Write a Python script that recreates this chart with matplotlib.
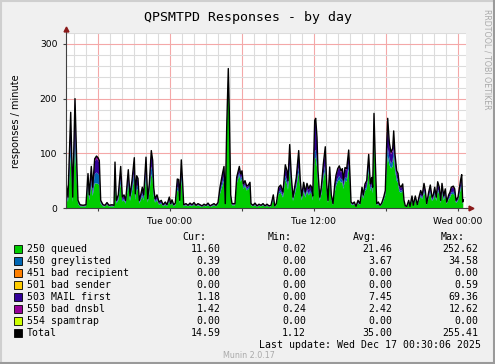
#!/usr/bin/env python3
"""Munin style chart: QPSMTPD responses by day (stacked areas + total line)."""

from datetime import datetime, timedelta

import matplotlib

matplotlib.use("Agg")
import matplotlib.dates as mdates
import matplotlib.pyplot as plt
from matplotlib.lines import Line2D
from matplotlib.patches import Rectangle
from matplotlib.ticker import FuncFormatter, MultipleLocator


START = datetime(2025, 12, 15, 15, 20)  # first 5-minute slot of the graph
SPAN_STEPS = 400                          # one pixel per 5-minute step

# sample positions, in 5-minute steps from START
STEPS = [
    0, 2, 4.7, 6.7, 9, 10.7, 12, 14, 17, 20,
    22, 23.3, 25.3, 26.7, 28.7, 30.5, 32, 33.3, 34.7, 37,
    39, 41, 43, 46, 48, 49, 50.3, 52.3, 54.7, 56.3,
    58, 59.7, 62.3, 64, 66, 68.3, 69.3, 70.7, 72, 73.3,
    74.7, 76.3, 77.7, 80, 81.7, 83.3, 85.3, 86.7, 87.7, 89,
    91, 93, 95.3, 97, 99.3, 101, 103.3, 104.7, 106, 107.7,
    109.3, 111.3, 112.7, 113.7, 115.3, 116.7, 117.7, 120, 122, 124,
    126, 128, 130, 132, 134, 136, 138, 140, 142, 144,
    146, 148, 150, 152, 154, 156.7, 158, 159.3, 160.7, 162.3,
    163.3, 164.7, 166, 169, 170.7, 173.3, 174.7, 176, 177.3, 179,
    180.7, 182.3, 184, 185, 187, 189, 191, 193, 195, 197,
    199, 201, 203, 205, 207.3, 208.7, 210.3, 212.7, 214.7, 217,
    219.3, 221, 222, 223.7, 225.3, 227, 228.7, 230.3, 232.7, 234.3,
    235.7, 237.7, 239.3, 241, 242.7, 244.3, 245.7, 246.7, 248.7, 249.7,
    251, 252, 253.7, 255.3, 257.3, 259.3, 260.7, 262, 263.7, 265.3,
    267, 268.7, 270, 271.7, 273.3, 275, 276.3, 277.3, 279, 280.7,
    282.7, 284, 285, 286.7, 288.3, 290, 292, 294, 296, 297.3,
    299, 300.7, 302.7, 304.3, 305.7, 306.7, 308, 309.3, 310.7, 312.3,
    314, 315.7, 317.7, 319.3, 320.7, 321.7, 323.3, 325, 326.7, 327.7,
    329, 330.7, 332, 333.3, 335, 336.7, 338, 339.3, 340.7, 342.7,
    344, 346, 347.3, 349.3, 351.3, 353, 354.7, 356.3, 358, 359.3,
    360.7, 362.7, 364.3, 366, 367.3, 368.7, 370.3, 371.7, 373.3, 374.7,
    376, 377.7, 379.3, 380.7, 382.7, 384, 385.3, 387.3, 388.7, 390,
    392, 394.7, 395.7, 396.7, 397.3,
]

TOTAL = [
    47, 20, 175, 20, 200, 87, 14, 6, 5, 6,
    63, 24, 76, 38, 90, 95, 92, 87, 14, 6,
    5, 10, 5, 6, 5, 84, 14, 24, 76, 20,
    24, 14, 70, 22, 50, 92, 26, 59, 54, 14,
    24, 38, 24, 93, 17, 44, 105, 87, 38, 17,
    24, 11, 14, 6, 11, 6, 20, 8, 15, 6,
    9, 53, 52, 14, 88, 44, 6, 8, 5, 9,
    6, 10, 5, 8, 6, 4, 7, 5, 9, 4,
    6, 8, 5, 10, 38, 65, 76, 8, 147, 255,
    178, 24, 8, 8, 56, 76, 62, 68, 44, 50,
    40, 42, 47, 8, 5, 9, 4, 7, 5, 8,
    4, 7, 4, 5, 24, 4, 8, 38, 42, 29,
    79, 68, 50, 116, 58, 20, 38, 56, 105, 50,
    22, 47, 29, 45, 35, 42, 38, 22, 160, 164,
    129, 68, 20, 38, 80, 112, 44, 14, 75, 24,
    8, 42, 60, 72, 77, 68, 72, 51, 74, 72,
    106, 58, 11, 8, 11, 3, 14, 8, 38, 24,
    44, 50, 98, 44, 56, 38, 173, 87, 8, 11,
    5, 9, 20, 32, 118, 164, 120, 102, 109, 141,
    98, 68, 63, 42, 38, 44, 14, 4, 3, 14,
    3, 22, 5, 22, 6, 20, 32, 24, 45, 32,
    8, 29, 42, 20, 24, 38, 20, 48, 38, 14,
    45, 22, 35, 11, 24, 29, 38, 40, 35, 14,
    20, 52, 61, 11, 14.59,
]

QUEUED = [
    26, 11, 95, 11, 110, 50, 8, 3, 3, 3,
    38, 14, 42, 22, 45, 45, 44, 42, 8, 3,
    3, 6, 3, 3, 3, 50, 8, 14, 45, 12,
    14, 8, 42, 13, 30, 55, 15, 35, 32, 8,
    14, 22, 14, 55, 10, 26, 62, 52, 22, 10,
    14, 6, 8, 3, 6, 3, 12, 5, 9, 3,
    5, 32, 31, 8, 52, 26, 3, 5, 3, 5,
    3, 6, 3, 5, 3, 2, 4, 3, 5, 2,
    3, 5, 3, 6, 26, 42, 50, 5, 135, 250,
    165, 18, 5, 5, 44, 60, 48, 54, 35, 40,
    32, 34, 38, 5, 3, 5, 2, 4, 3, 5,
    2, 4, 2, 3, 15, 2, 5, 26, 28, 19,
    52, 44, 33, 70, 38, 13, 25, 37, 65, 33,
    14, 31, 19, 30, 23, 28, 25, 14, 90, 92,
    75, 44, 13, 25, 52, 70, 29, 9, 49, 16,
    5, 28, 40, 48, 52, 46, 48, 35, 50, 48,
    72, 40, 7, 5, 7, 2, 9, 5, 27, 17,
    31, 35, 68, 31, 39, 27, 150, 70, 5, 7,
    3, 6, 14, 23, 72, 95, 80, 72, 76, 95,
    70, 50, 46, 30, 28, 31, 10, 2, 2, 9,
    2, 15, 3, 15, 4, 13, 21, 16, 29, 21,
    5, 19, 27, 13, 16, 25, 13, 31, 25, 9,
    29, 14, 23, 7, 16, 19, 25, 26, 23, 9,
    13, 34, 40, 7, 11.60,
]

GREYLISTED = [
    6, 3, 25, 3, 30, 12, 2, 1, 0.5, 1,
    8, 3, 10, 5, 17, 20, 19, 17, 2, 1,
    0.5, 1, 0.5, 1, 0.5, 10, 2, 3, 9, 2,
    3, 2, 8, 3, 6, 12, 3, 7, 7, 2,
    3, 5, 3, 12, 2, 5, 14, 11, 5, 2,
    3, 1, 2, 1, 1, 1, 2, 1, 2, 1,
    1, 6, 6, 2, 11, 5, 1, 1, 0.5, 1,
    1, 1, 0.5, 1, 1, 0.3, 1, 0.5, 1, 0.3,
    1, 1, 0.5, 1, 4, 7, 8, 1, 3, 2,
    3, 2, 1, 1, 4, 5, 5, 5, 3, 3,
    3, 3, 3, 1, 0.5, 1, 0.3, 1, 0.5, 1,
    0.3, 1, 0.3, 0.5, 3, 0.3, 1, 4, 4, 3,
    7, 6, 5, 10, 5, 2, 3, 5, 9, 4,
    2, 4, 3, 4, 3, 4, 3, 2, 14, 14,
    11, 6, 2, 3, 7, 10, 4, 1, 7, 2,
    1, 4, 5, 6, 7, 6, 6, 4, 6, 6,
    9, 5, 1, 1, 1, 0.2, 1, 1, 3, 2,
    4, 4, 8, 4, 5, 3, 6, 5, 1, 1,
    0.5, 1, 2, 3, 12, 16, 12, 9, 10, 13,
    8, 6, 5, 4, 3, 4, 1, 0.3, 0.2, 1,
    0.2, 2, 0.5, 2, 0.5, 2, 3, 2, 4, 3,
    1, 3, 4, 2, 2, 3, 2, 4, 3, 1,
    4, 2, 3, 1, 2, 3, 3, 4, 3, 1,
    2, 5, 6, 1, 0.39,
]

DNSBL = [
    3, 2, 8, 2, 9, 4, 2, 1, 1, 1,
    3, 2, 4, 2, 5, 5, 5, 4, 1, 1,
    1, 1, 1, 1, 1, 4, 1, 2, 4, 2,
    2, 1, 3, 2, 3, 4, 2, 3, 3, 1,
    2, 2, 2, 4, 1, 2, 5, 4, 2, 1,
    2, 1, 1, 1, 1, 1, 2, 1, 1, 1,
    1, 3, 3, 1, 4, 2, 1, 1, 1, 1,
    1, 1, 1, 1, 1, 1, 1, 1, 1, 1,
    1, 1, 1, 1, 2, 3, 3, 1, 2, 2,
    2, 1, 1, 1, 2, 3, 2, 2, 2, 2,
    2, 2, 2, 1, 1, 1, 1, 1, 1, 1,
    1, 1, 1, 1, 2, 1, 1, 2, 2, 2,
    4, 3, 2, 5, 3, 1, 2, 3, 5, 2,
    1, 2, 2, 2, 2, 2, 2, 1, 8, 8,
    6, 3, 1, 2, 4, 5, 2, 1, 3, 1,
    1, 2, 3, 3, 3, 3, 3, 2, 3, 3,
    5, 3, 1, 1, 1, 0.5, 1, 1, 2, 1,
    2, 2, 4, 2, 3, 2, 4, 3, 1, 1,
    1, 1, 1, 2, 5, 7, 5, 4, 5, 6,
    4, 3, 3, 2, 2, 2, 1, 1, 0.5, 1,
    0.5, 1, 1, 1, 1, 1, 2, 1, 2, 2,
    1, 2, 2, 1, 1, 2, 1, 2, 2, 1,
    2, 1, 2, 1, 1, 2, 2, 2, 2, 1,
    1, 3, 3, 1, 1.42,
]

LEGEND_NAMES = [
    "250 queued", "450 greylisted", "451 bad recipient", "501 bad sender",
    "503 MAIL first", "550 bad dnsbl", "554 spamtrap", "Total",
]
LEGEND_COLORS = [
    "#00CC00", "#0066B3", "#FF8000", "#FFCC00",
    "#330099", "#990099", "#CCFF00", "#000000",
]
CUR = ["11.60", "0.39", "0.00", "0.00", "1.18", "1.42", "0.00", "14.59"]
MIN = ["0.02", "0.00", "0.00", "0.00", "0.00", "0.24", "0.00", "1.12"]
AVG = ["21.46", "3.67", "0.00", "0.00", "7.45", "2.42", "0.00", "35.00"]
MAX = ["252.62", "34.58", "0.00", "0.59", "69.36", "12.62", "0.00", "255.41"]

TITLE = "QPSMTPD Responses - by day"
Y_LABEL = "responses / minute"
LAST_UPDATE = "Last update: Wed Dec 17 00:30:06 2025"

W, H = 495, 364
MONO = "DejaVu Sans Mono"


def fx(px):
    return px / W


def fy(py):
    return 1 - py / H


times = [START + timedelta(minutes=5 * s) for s in STEPS]
# 503 MAIL first fills the band between the blue layer and the total line
mail_first = [max(t - q - g - d, 0) for t, q, g, d in zip(TOTAL, QUEUED, GREYLISTED, DNSBL)]

fig = plt.figure(figsize=(W / 100, H / 100), dpi=100, facecolor="#F0F0F0")
ax = fig.add_axes([fx(66), fy(208), fx(400), 175 / H])
ax.set_facecolor("white")

ax.stackplot(
    times, QUEUED, GREYLISTED, mail_first, DNSBL,
    colors=["#00CC00", "#0066B3", "#330099", "#990099"],
    linewidth=0, zorder=2,
)
ax.plot(times, TOTAL, color="black", linewidth=1.0, zorder=3)

ax.set_xlim(START, START + timedelta(minutes=5 * SPAN_STEPS))
ax.set_ylim(0, 320)

ax.xaxis.set_major_locator(mdates.HourLocator(byhour=[0, 6, 12, 18]))
ax.xaxis.set_minor_locator(mdates.HourLocator())


def hour_label(value, _pos):
    stamp = mdates.num2date(value)
    return stamp.strftime("%a %H:%M") if stamp.hour in (0, 12) else ""


ax.xaxis.set_major_formatter(FuncFormatter(hour_label))
ax.yaxis.set_major_locator(MultipleLocator(100))
ax.yaxis.set_minor_locator(MultipleLocator(20))

ax.set_axisbelow(True)
ax.grid(which="minor", color="#DCDCDC", linewidth=0.8)
ax.grid(which="major", color="#F4A8A8", linewidth=0.8)

for side in ("top", "right"):
    ax.spines[side].set_visible(False)
for side in ("left", "bottom"):
    ax.spines[side].set_color("#404040")
    ax.spines[side].set_linewidth(0.8)
    ax.spines[side].set_zorder(4)

ax.tick_params(which="major", length=2.2, width=0.8, color="#404040",
               labelsize=6.6, pad=4, labelcolor="black")
ax.tick_params(which="minor", length=0)

# axis arrows
ax.plot([1.0, 1.012], [0, 0], transform=ax.transAxes, color="#404040",
        linewidth=0.8, clip_on=False, zorder=4)
ax.plot([1.012], [0], marker=">", markersize=3.5, color="#8B1A1A",
        transform=ax.transAxes, clip_on=False, zorder=5)
ax.plot([0, 0], [1.0, 1.02], transform=ax.transAxes, color="#404040",
        linewidth=0.8, clip_on=False, zorder=4)
ax.plot([0], [1.025], marker="^", markersize=3.5, color="#8B1A1A",
        transform=ax.transAxes, clip_on=False, zorder=5)

fig.text(fx(247.5), fy(17), TITLE, family=MONO, fontsize=9.5,
         ha="center", va="center")
fig.text(fx(16), fy(121), Y_LABEL, fontsize=7, rotation=90,
         ha="center", va="center")
fig.text(fx(487), fy(59), "RRDTOOL / TOBI OETIKER", fontsize=5.7,
         rotation=270, color="#AAAAAA", ha="center", va="center")

# legend block
for header, right in zip(("Cur:", "Min:", "Avg:", "Max:"), (206.7, 291.7, 377.3, 464.3)):
    fig.text(fx(right), fy(237), header, family=MONO, fontsize=7.1,
             ha="right", va="center")

for i, (name, color) in enumerate(zip(LEGEND_NAMES, LEGEND_COLORS)):
    row_y = 248.5 + 12 * i
    fig.add_artist(Rectangle((fx(14), fy(row_y + 4)), fx(7.5), 7.5 / H,
                             facecolor=color, edgecolor="black",
                             linewidth=0.6, transform=fig.transFigure))
    fig.text(fx(27), fy(row_y), name, family=MONO, fontsize=7.1,
             ha="left", va="center")
    for value, right in zip((CUR[i], MIN[i], AVG[i], MAX[i]),
                            (220.3, 306, 392.3, 478.3)):
        fig.text(fx(right), fy(row_y), value, family=MONO, fontsize=7.1,
                 ha="right", va="center")

fig.text(fx(481), fy(344.5), LAST_UPDATE, family=MONO, fontsize=7.1,
         ha="right", va="center")
fig.text(fx(248.5), fy(355), "Munin 2.0.17", fontsize=5.8, color="#AAAAAA",
         ha="center", va="center")

# 3d-ish outer frame
fig.add_artist(Line2D([0, 1], [1 - 1 / H, 1 - 1 / H], color="#CFCFCF", linewidth=1.5,
                      transform=fig.transFigure))
fig.add_artist(Line2D([1 / W, 1 / W], [0, 1], color="#CFCFCF", linewidth=1.5,
                      transform=fig.transFigure))
fig.add_artist(Line2D([0, 1], [1 / H, 1 / H], color="#9A9A9A", linewidth=1.5,
                      transform=fig.transFigure))
fig.add_artist(Line2D([1 - 1 / W, 1 - 1 / W], [0, 1], color="#9A9A9A", linewidth=1.5,
                      transform=fig.transFigure))

fig.savefig("out.png", dpi=100, facecolor=fig.get_facecolor())
